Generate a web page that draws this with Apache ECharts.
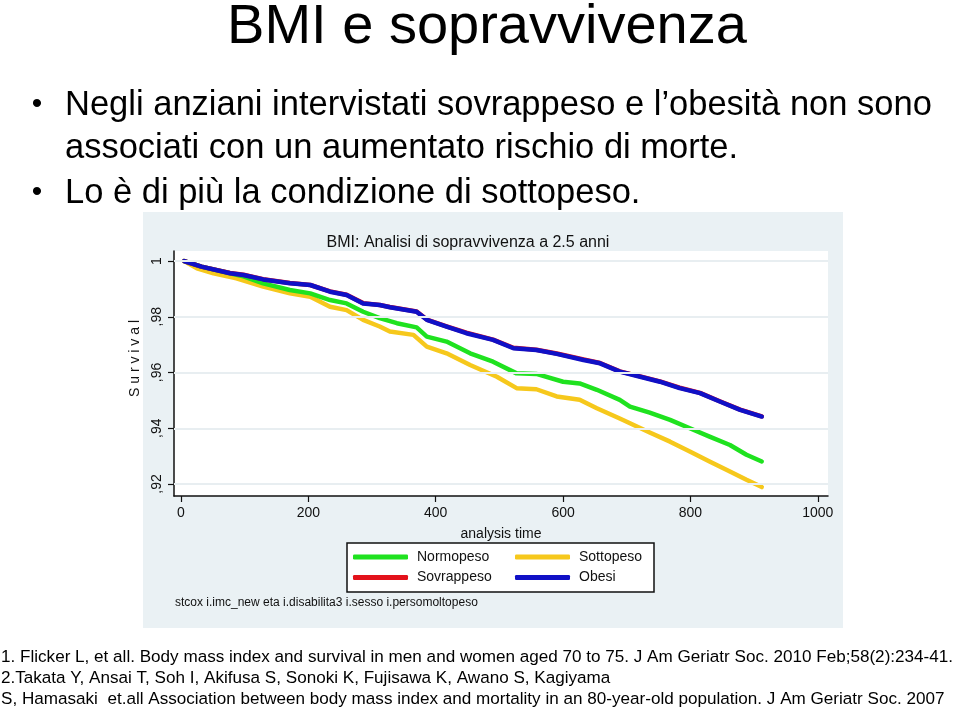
<!DOCTYPE html>
<html>
<head>
<meta charset="utf-8">
<script src="https://cdn.jsdelivr.net/npm/echarts@6/dist/echarts.min.js"></script>
<style>
html,body{margin:0;padding:0;background:#fff;}
#main{width:960px;height:709px;}
</style>
</head>
<body>
<div id="main"></div>
<script>
// ---- data ----
var seriesNames = ['Normopeso', 'Sovrappeso', 'Sottopeso', 'Obesi'];

var normoT = [5, 32, 77, 98, 129, 171, 203, 234, 260, 286, 312, 339, 370, 386, 417, 454, 490, 527, 558, 600, 626, 653, 689, 705, 736, 768, 799, 830, 862, 888, 912];
var normoV = [1.0, 0.998, 0.9956, 0.9945, 0.992, 0.9896, 0.9884, 0.986, 0.9848, 0.9818, 0.9795, 0.9777, 0.9762, 0.9729, 0.9711, 0.9669, 0.9639, 0.9597, 0.9595, 0.9567, 0.9561, 0.9538, 0.9502, 0.9478, 0.9456, 0.943, 0.94, 0.937, 0.934, 0.9305, 0.9281];

var sovraT = [5, 32, 77, 98, 129, 171, 203, 234, 260, 286, 312, 328, 370, 386, 417, 448, 490, 522, 558, 590, 632, 658, 689, 721, 752, 783, 815, 846, 878, 912];
var sovraV = [1.0, 0.998, 0.9957, 0.9951, 0.9935, 0.9921, 0.9914, 0.9891, 0.9879, 0.9849, 0.9842, 0.9835, 0.9819, 0.9790, 0.9766, 0.9743, 0.9718, 0.9689, 0.9682, 0.9668, 0.9647, 0.9634, 0.9604, 0.9586, 0.9568, 0.9546, 0.9527, 0.9497, 0.9467, 0.9443];

var sottoT = [5, 25, 51, 87, 129, 171, 203, 234, 260, 286, 312, 328, 365, 386, 417, 454, 496, 527, 558, 590, 626, 653, 689, 705, 736, 768, 799, 830, 862, 888, 912];
var sottoV = [1.0, 0.9974, 0.9956, 0.9938, 0.9908, 0.9884, 0.9872, 0.9836, 0.9824, 0.9789, 0.9765, 0.9747, 0.9735, 0.9693, 0.9669, 0.9627, 0.9585, 0.9544, 0.954, 0.9514, 0.9502, 0.9472, 0.9435, 0.9418, 0.9385, 0.9352, 0.9317, 0.9281, 0.9245, 0.9215, 0.9189];

var obesiT = [5, 32, 77, 98, 129, 171, 203, 234, 260, 286, 312, 328, 370, 386, 417, 448, 490, 522, 558, 590, 632, 658, 689, 721, 752, 783, 815, 846, 878, 912];
var obesiV = [1.0, 0.998, 0.9956, 0.995, 0.9934, 0.992, 0.9914, 0.989, 0.9878, 0.9848, 0.9842, 0.9834, 0.9818, 0.9789, 0.9765, 0.9741, 0.9717, 0.9687, 0.9681, 0.9667, 0.9645, 0.9633, 0.9603, 0.9585, 0.9567, 0.9544, 0.9526, 0.9496, 0.9466, 0.9442];

var xTicks = [0, 200, 400, 600, 800, 1000];
var yTicks = [0.92, 0.94, 0.96, 0.98, 1];
var yTickLabels = [',92', ',94', ',96', ',98', '1'];

var slideTitle = 'BMI e sopravvivenza';
var bullets = [
  ['Negli anziani intervistati sovrappeso e l\u2019obesità non sono', 'associati con un aumentato rischio di morte.'],
  ['Lo è di più la condizione di sottopeso.']
];
var chartTitle = 'BMI: Analisi di sopravvivenza a 2.5 anni';
var xName = 'analysis time';
var yName = 'S u r v i v a l';
var noteText = 'stcox i.imc_new eta i.disabilita3 i.sesso i.persomoltopeso';
var refs = [
  '1. Flicker L, et all. Body mass index and survival in men and women aged 70 to 75. J Am Geriatr Soc. 2010 Feb;58(2):234-41.',
  '2.Takata Y, Ansai T, Soh I, Akifusa S, Sonoki K, Fujisawa K, Awano S, Kagiyama',
  'S, Hamasaki  et.all Association between body mass index and mortality in an 80-year-old population. J Am Geriatr Soc. 2007'
];

var colors = {Normopeso: '#1fe21f', Sovrappeso: '#e3121b', Sottopeso: '#f6c81c', Obesi: '#1010c6'};

function pairs(t, v) { return t.map(function (x, i) { return [x, v[i]]; }); }

var FONT = "'Liberation Sans', Arial, sans-serif";

var chart = echarts.init(document.getElementById('main'), null, {renderer: 'canvas'});

function lineSeries(name, t, v) {
  return {
    name: name, type: 'line', data: pairs(t, v),
    showSymbol: false, symbol: 'none',
    lineStyle: {width: 4.5, color: colors[name], join: 'round', cap: 'round'},
    itemStyle: {color: colors[name]},
    animation: false, silent: true
  };
}

var graphics = [
  {type: 'rect', z: -10, shape: {x: 143, y: 212, width: 700, height: 416}, style: {fill: '#eaf1f4'}},
  {type: 'rect', z: 1, shape: {x: 347, y: 543, width: 307, height: 49}, style: {fill: '#ffffff', stroke: '#111', lineWidth: 1.5}},
  {type: 'text', x: 487, y: 28, style: {text: slideTitle, font: '56px ' + FONT, fill: '#000', align: 'center', verticalAlign: 'middle'}},
  {type: 'text', x: 175, y: 603, style: {text: noteText, font: '12px ' + FONT, fill: '#111', align: 'left', verticalAlign: 'middle'}}
];
// bullets
var bulletY = [[105, 148], [193]];
bullets.forEach(function (lines, bi) {
  graphics.push({type: 'text', x: 37, y: bulletY[bi][0], style: {text: '\u2022', font: '30px ' + FONT, fill: '#000', align: 'center', verticalAlign: 'middle'}});
  lines.forEach(function (ln, li) {
    graphics.push({type: 'text', x: 65, y: bulletY[bi][li], style: {text: ln, font: '34.5px ' + FONT, fill: '#000', align: 'left', verticalAlign: 'middle'}});
  });
});
var refY = [657, 678, 699];
refs.forEach(function (r, i) {
  graphics.push({type: 'text', x: 1, y: refY[i], style: {text: r, font: '17.1px ' + FONT, fill: '#000', align: 'left', verticalAlign: 'middle'}});
});

var legendCommon = {
  orient: 'vertical', itemWidth: 55, itemHeight: 5, icon: 'roundRect', itemGap: 4.5,
  padding: 0, selectedMode: false, z: 5,
  textStyle: {fontFamily: FONT, fontSize: 14, color: '#111', lineHeight: 16, padding: [0, 0, 0, 4]}
};

var option = {
  backgroundColor: '#ffffff',
  animation: false,
  title: [{
    text: chartTitle, left: 463, top: 238, textAlign: 'center', textVerticalAlign: 'middle',
    textStyle: {fontFamily: FONT, fontSize: 16, fontWeight: 'normal', color: '#111'}
  }],
  legend: [
    Object.assign({}, legendCommon, {left: 353, top: 549, data: ['Normopeso', 'Sovrappeso']}),
    Object.assign({}, legendCommon, {left: 515, top: 549, data: ['Sottopeso', 'Obesi']})
  ],
  grid: {left: 174, right: 132, top: 251, bottom: 213, show: true, backgroundColor: '#ffffff', borderWidth: 0, containLabel: false},
  xAxis: {
    type: 'value', min: -11, max: 1016,
    name: xName, nameLocation: 'middle', nameGap: 31,
    nameTextStyle: {fontFamily: FONT, fontSize: 14, color: '#111'},
    axisLine: {show: true, onZero: false, lineStyle: {color: '#111', width: 1.5}},
    axisTick: {show: true, length: 6, customValues: xTicks, lineStyle: {color: '#111', width: 1.2}},
    axisLabel: {customValues: xTicks, margin: 10, fontFamily: FONT, fontSize: 14, color: '#111',
      formatter: function (v) { return String(Math.round(v)); }},
    splitLine: {show: false}
  },
  yAxis: {
    type: 'value', min: 0.9157, max: 1.0036,
    name: yName, nameLocation: 'middle', nameGap: 31, nameRotate: 90,
    nameTextStyle: {fontFamily: FONT, fontSize: 14, color: '#111', padding: [0, 0, 0, 30]},
    axisLine: {show: true, onZero: false, lineStyle: {color: '#111', width: 1.5}},
    axisTick: {show: true, length: 6, customValues: yTicks, lineStyle: {color: '#111', width: 1.2}},
    axisLabel: {
      customValues: yTicks, rotate: 90, margin: 10, fontFamily: FONT, fontSize: 14, color: '#111',
      formatter: function (v) {
        var i = yTicks.findIndex(function (t) { return Math.abs(t - v) < 1e-6; });
        return i >= 0 ? yTickLabels[i] : '';
      }
    },
    splitLine: {show: false}
  },
  graphic: graphics,
  series: [
    {
      name: 'grid', type: 'line', data: [], silent: true,
      markLine: {
        silent: true, symbol: 'none', label: {show: false}, animation: false,
        lineStyle: {color: '#e8eef1', width: 2, type: 'solid'},
        data: yTicks.map(function (t) { return {yAxis: t}; })
      }
    },
    lineSeries('Sottopeso', sottoT, sottoV),
    lineSeries('Normopeso', normoT, normoV),
    lineSeries('Sovrappeso', sovraT, sovraV),
    lineSeries('Obesi', obesiT, obesiV)
  ]
};
chart.setOption(option);
</script>
</body>
</html>
